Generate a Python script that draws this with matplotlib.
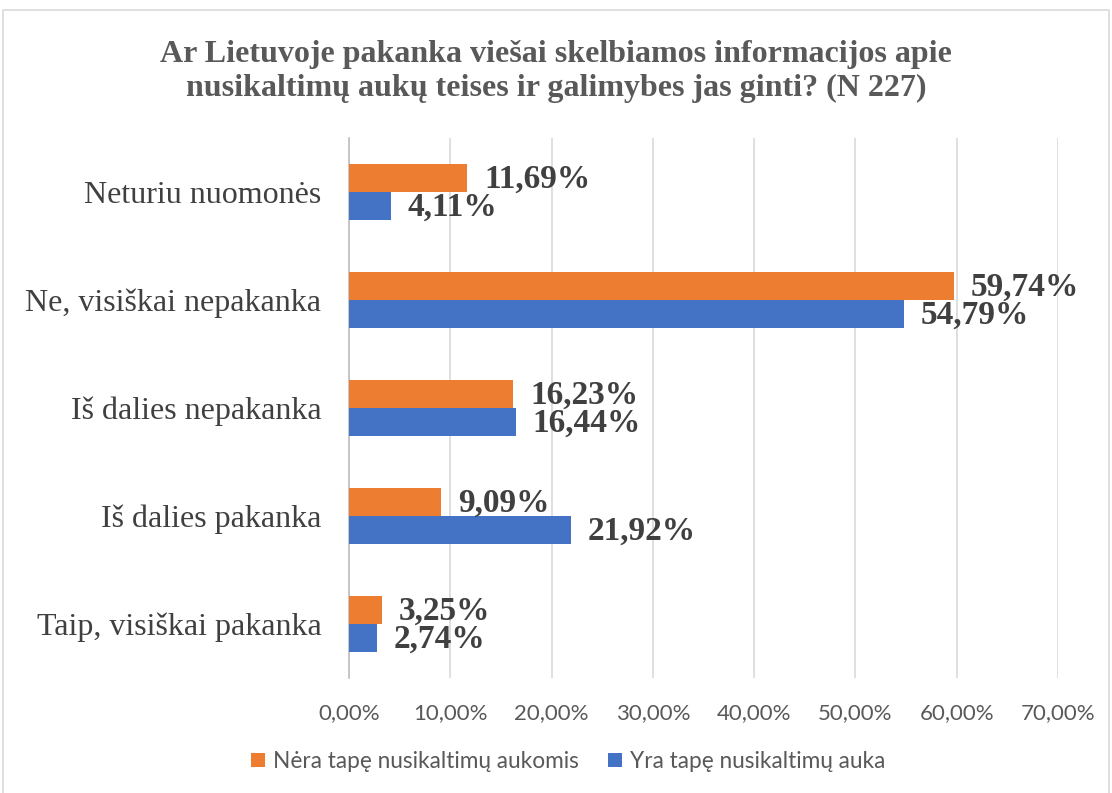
import matplotlib
matplotlib.use("Agg")
import matplotlib.pyplot as plt
import numpy as np
from matplotlib.patches import Rectangle

categories = ["Neturiu nuomonės", "Ne, visiškai nepakanka", "Iš dalies nepakanka",
              "Iš dalies pakanka", "Taip, visiškai pakanka"]
not_victim = [11.69, 59.74, 16.23, 9.09, 3.25]
victim = [4.11, 54.79, 16.44, 21.92, 2.74]
series_names = ["Nėra tapę nusikaltimų aukomis", "Yra tapę nusikaltimų auka"]
x_ticks = [0, 10, 20, 30, 40, 50, 60, 70]

ORANGE = "#ED7D31"
BLUE = "#4472C4"
SERIF = ["Liberation Serif", "DejaVu Serif"]
SANS = ["Lato", "DejaVu Sans"]


def pct(v):
    return f"{v:.2f}".replace(".", ",") + "%"


fig = plt.figure(figsize=(11.12, 7.93), dpi=100)
ax = fig.add_axes([0.3139, 0.145, 0.6375, 0.681])

# light frame around the whole chart, like the Excel chart area
fig.patches.append(Rectangle((0.003, -0.01), 0.994, 0.997, transform=fig.transFigure,
                             fill=False, edgecolor="#D9D9D9", linewidth=1.2))

y = np.arange(len(categories))
h = 0.26
bo = ax.barh(y - h / 2, not_victim, height=h, color=ORANGE, label=series_names[0], zorder=3)
bb = ax.barh(y + h / 2, victim, height=h, color=BLUE, label=series_names[1], zorder=3)

for bars, vals in ((bo, not_victim), (bb, victim)):
    for b, v in zip(bars, vals):
        ax.annotate(pct(v), (b.get_width(), b.get_y() + b.get_height() / 2),
                    xytext=(12, -1), textcoords="offset points", ha="left", va="center",
                    fontsize=24, fontweight="bold", family=SERIF, color="#404040")

ax.set_ylim(len(categories) - 0.5, -0.5)
ax.set_xlim(0, 70)
ax.set_xticks(x_ticks)
ax.set_xticklabels([pct(t) for t in x_ticks], family=SANS, fontsize=16, color="#595959")
ax.set_yticks(y)
ax.set_yticklabels(categories, family=SERIF, fontsize=23, color="#404040")
ax.tick_params(axis="both", length=0)
ax.tick_params(axis="x", pad=18)
ax.tick_params(axis="y", pad=20)

ax.grid(axis="x", color="#D9D9D9", linewidth=1.2, zorder=0)
for s in ("top", "right", "bottom"):
    ax.spines[s].set_visible(False)
ax.spines["left"].set_color("#BFBFBF")
ax.spines["left"].set_linewidth(1.2)

fig.text(0.5, 0.91, "Ar Lietuvoje pakanka viešai skelbiamos informacijos apie\n"
         "nusikaltimų aukų teises ir galimybes jas ginti? (N 227)",
         ha="center", va="center", family=SERIF, fontsize=23, fontweight="bold",
         color="#595959", linespacing=1.2)

fig.legend(handles=[bo, bb], labels=series_names, loc="center", bbox_to_anchor=(0.511, 0.04),
           ncol=2, frameon=False, prop={"family": SANS, "size": 16.3},
           handlelength=0.6, handleheight=0.6, handletextpad=0.35, columnspacing=1.3,
           labelcolor="#595959")

fig.savefig("out.png", dpi=100)
